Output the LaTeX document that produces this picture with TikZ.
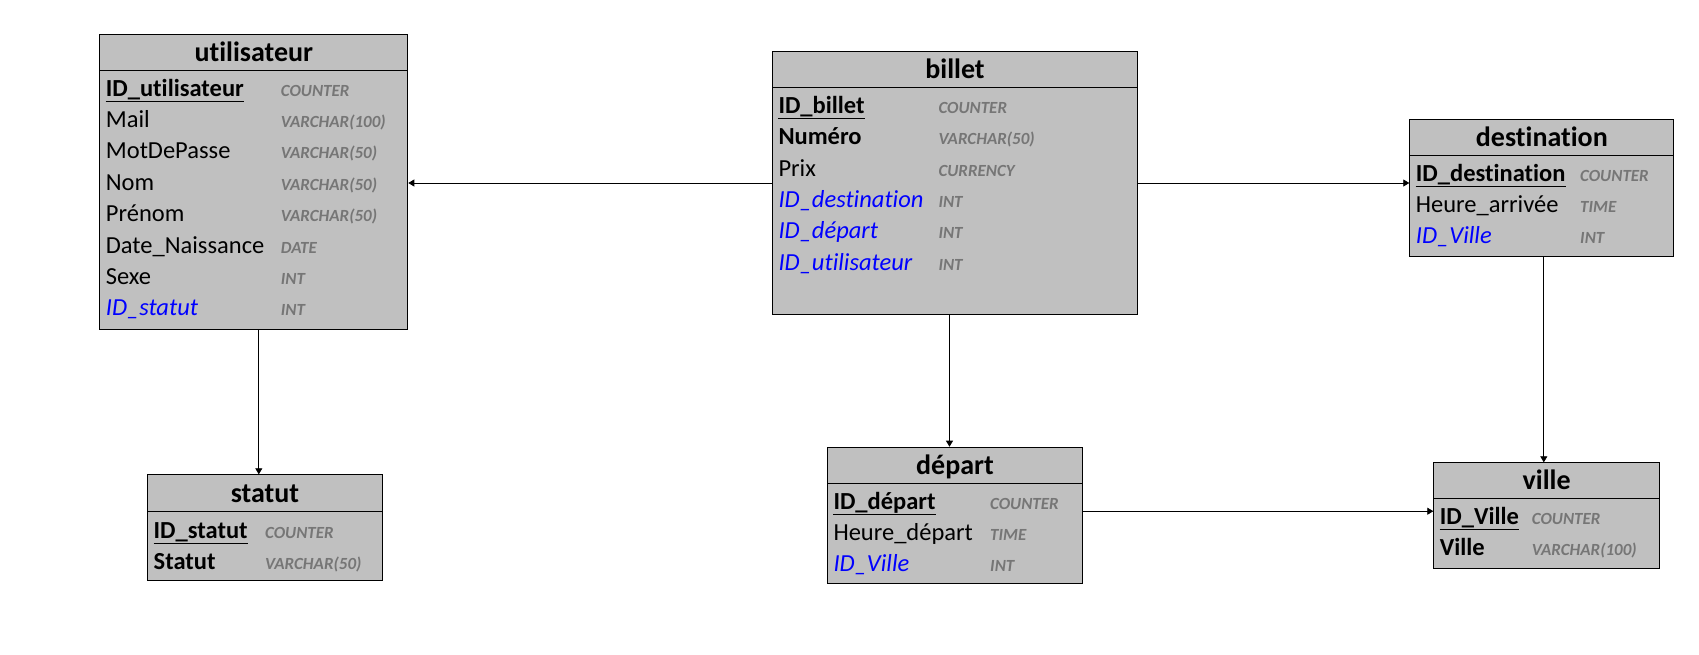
\documentclass[tikz,border=0pt]{standalone}
\usepackage{fontspec}
\setmainfont[RawFeature={-liga;-clig;-dlig}]{Carlito}
\usetikzlibrary{arrows.meta,calc}
\definecolor{boxgray}{RGB}{192,192,192}
\definecolor{typegray}{RGB}{118,118,118}
\definecolor{fkblue}{RGB}{0,0,255}
\begin{document}
\begin{tikzpicture}[x=1pt,y=-1pt,
  tbox/.style={draw=black,fill=boxgray,line width=1pt,inner sep=0pt,anchor=north west},
  ttl/.style={font=\fontsize{28}{30}\selectfont\bfseries,inner sep=0pt,anchor=base},
  fld/.style={font=\fontsize{24.5}{26}\selectfont,inner sep=0pt,anchor=base west},
  pk/.style={fld,font=\fontsize{24.5}{26}\selectfont\bfseries},
  fk/.style={fld,font=\fontsize{24.5}{26}\selectfont\itshape,text=fkblue},
  typ/.style={font=\fontsize{17}{18}\selectfont\bfseries\itshape,text=typegray,inner sep=0pt,anchor=base west},
  conn/.style={draw=black,line width=0.8pt,-{Triangle[length=6pt,width=7pt]}}
]
\useasboundingbox (0,0) rectangle (1699,654);

% ---------- utilisateur ----------
\node[tbox,minimum width=308pt,minimum height=294.7pt] (u) at (99.3,34.3) {};
\draw[line width=1pt] ($(u.north west)+(0,35.7)$) -- ($(u.north east)+(0,35.7)$);
\node[ttl] (ut) at ($(u.north)+(0,27.4)$) {utilisateur};
\node[pk] (u1) at (105.7,96) {ID\_utilisateur};
\draw[line width=1pt] ([yshift=-5pt]u1.base west) -- ([yshift=-5pt]u1.base east);
\node[fld] (u2) at (105.7,127.4) {Mail};
\node[fld] (u3) at (105.7,158.8) {MotDePasse};
\node[fld] (u4) at (105.7,190.2) {Nom};
\node[fld] (u5) at (105.7,221.6) {Prénom};
\node[fld] (u6) at (105.7,253) {Date\_Naissance};
\node[fld] (u7) at (105.7,284.4) {Sexe};
\node[fk] (u8) at (105.7,315.8) {ID\_statut};
\node[typ] (ut1) at (280.7,96) {COUNTER};
\node[typ] (ut2) at (280.7,127.4) {VARCHAR(100)};
\node[typ] (ut3) at (280.7,158.8) {VARCHAR(50)};
\node[typ] (ut4) at (280.7,190.2) {VARCHAR(50)};
\node[typ] (ut5) at (280.7,221.6) {VARCHAR(50)};
\node[typ] (ut6) at (280.7,253) {DATE};
\node[typ] (ut7) at (280.7,284.4) {INT};
\node[typ] (ut8) at (280.7,315.8) {INT};

% ---------- billet ----------
\node[tbox,minimum width=364.4pt,minimum height=263pt] (b) at (772.3,51) {};
\draw[line width=1pt] ($(b.north west)+(0,36.3)$) -- ($(b.north east)+(0,36.3)$);
\node[ttl] (bt) at ($(b.north)+(0,27.3)$) {billet};
\node[pk] (b1) at (778.3,113.3) {ID\_billet};
\draw[line width=1pt] ([yshift=-5pt]b1.base west) -- ([yshift=-5pt]b1.base east);
\node[pk] (b2) at (778.3,144.7) {Numéro};
\node[fld] (b3) at (778.3,176.1) {Prix};
\node[fk] (b4) at (778.3,207.5) {ID\_destination};
\node[fk] (b5) at (778.3,238.9) {ID\_départ};
\node[fk] (b6) at (778.3,270.3) {ID\_utilisateur};
\node[typ] (bt1) at (938.3,113.3) {COUNTER};
\node[typ] (bt2) at (938.3,144.7) {VARCHAR(50)};
\node[typ] (bt3) at (938.3,176.1) {CURRENCY};
\node[typ] (bt4) at (938.3,207.5) {INT};
\node[typ] (bt5) at (938.3,238.9) {INT};
\node[typ] (bt6) at (938.3,270.3) {INT};

% ---------- destination ----------
\node[tbox,minimum width=264pt,minimum height=136.7pt] (de) at (1409.3,119.3) {};
\draw[line width=1pt] ($(de.north west)+(0,35.7)$) -- ($(de.north east)+(0,35.7)$);
\node[ttl] (det) at ($(de.north)+(0,27.4)$) {destination};
\node[pk] (de1) at (1415.7,181) {ID\_destination};
\draw[line width=1pt] ([yshift=-5pt]de1.base west) -- ([yshift=-5pt]de1.base east);
\node[fld] (de2) at (1415.7,212.4) {Heure\_arrivée};
\node[fk] (de3) at (1415.7,243.8) {ID\_Ville};
\node[typ] (dt1) at (1580,181) {COUNTER};
\node[typ] (dt2) at (1580,212.4) {TIME};
\node[typ] (dt3) at (1580,243.8) {INT};

% ---------- statut ----------
\node[tbox,minimum width=234.4pt,minimum height=105.7pt] (s) at (147.3,474.3) {};
\draw[line width=1pt] ($(s.north west)+(0,37.4)$) -- ($(s.north east)+(0,37.4)$);
\node[ttl] (st) at ($(s.north)+(0,28)$) {statut};
\node[pk] (s1) at (153.5,538.3) {ID\_statut};
\draw[line width=1pt] ([yshift=-5pt]s1.base west) -- ([yshift=-5pt]s1.base east);
\node[pk] (s2) at (153.5,569.7) {Statut};
\node[typ] (stt1) at (265,538.3) {COUNTER};
\node[typ] (stt2) at (265,569.7) {VARCHAR(50)};

% ---------- départ ----------
\node[tbox,minimum width=254.4pt,minimum height=136.6pt] (dp) at (827.3,446.7) {};
\draw[line width=1pt] ($(dp.north west)+(0,36.6)$) -- ($(dp.north east)+(0,36.6)$);
\node[ttl] (dpt) at ($(dp.north)+(0,27.6)$) {départ};
\node[pk] (dp1) at (833.3,509) {ID\_départ};
\draw[line width=1pt] ([yshift=-5pt]dp1.base west) -- ([yshift=-5pt]dp1.base east);
\node[fld] (dp2) at (833.3,540.4) {Heure\_départ};
\node[fk] (dp3) at (833.3,571.8) {ID\_Ville};
\node[typ] (dpt1) at (990,509) {COUNTER};
\node[typ] (dpt2) at (990,540.4) {TIME};
\node[typ] (dpt3) at (990,571.8) {INT};

% ---------- ville ----------
\node[tbox,minimum width=225.7pt,minimum height=106pt] (v) at (1433.3,462.3) {};
\draw[line width=1pt] ($(v.north west)+(0,36)$) -- ($(v.north east)+(0,36)$);
\node[ttl] (vt) at ($(v.north)+(0,27.4)$) {ville};
\node[pk] (v1) at (1439.7,524) {ID\_Ville};
\draw[line width=1pt] ([yshift=-5pt]v1.base west) -- ([yshift=-5pt]v1.base east);
\node[pk] (v2) at (1439.7,555.4) {Ville};
\node[typ] (vt1) at (1531.7,524) {COUNTER};
\node[typ] (vt2) at (1531.7,555.4) {VARCHAR(100)};

% ---------- connectors ----------
\draw[conn] (b.west) -- (u.east |- b.west);
\draw[conn] (b.east) -- (de.west |- b.east);
\draw[conn] ([xshift=-5.5pt]b.south) -- ([xshift=-5.5pt]b.south |- dp.north);
\draw[conn] ([xshift=5pt]u.south) -- ([xshift=5pt]u.south |- s.north);
\draw[conn] ([xshift=2pt]de.south) -- ([xshift=2pt]de.south |- v.north);
\draw[conn] ([yshift=4.3pt]dp.east) -- ([yshift=4.3pt]dp.east -| v.west);
\end{tikzpicture}
\end{document}
